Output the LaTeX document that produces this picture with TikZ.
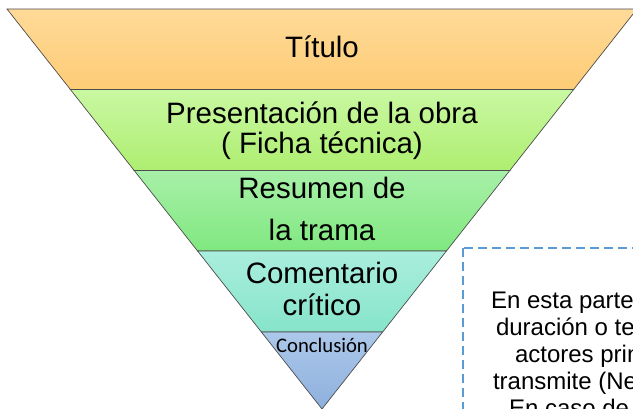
\documentclass[tikz,border=0pt]{standalone}
\usepackage{fontspec}
\setmainfont{Liberation Sans}
\newfontfamily\calibrifont{Carlito}
\usepackage{tikz}

\newcommand{\halfw}[1]{0.7875*(409-#1)}

\begin{document}
\begin{tikzpicture}[x=1pt, y=-1pt,
    inner sep=0pt, outer sep=0pt,%
    band/.style={draw=black!70, line width=0.7pt, top color=#1top, bottom color=#1bot},
    label/.style={font=\fontsize{29.5}{30}\selectfont, align=center, anchor=base},
    note/.style={font=\fontsize{24}{27}\selectfont, anchor=base west},
    notebox/.style={draw=boxblue, line width=2pt, dash pattern=on 9pt off 5pt},
]
    % Colors
    \definecolor{orangetop}{HTML}{FFDA98}
    \definecolor{orangebot}{HTML}{FDCC76}
    \definecolor{limetop}{HTML}{C9F8A2}
    \definecolor{limebot}{HTML}{AEEE70}
    \definecolor{greentop}{HTML}{A8F0A8}
    \definecolor{greenbot}{HTML}{80E880}
    \definecolor{tealtop}{HTML}{AAEEDD}
    \definecolor{tealbot}{HTML}{86E4CA}
    \definecolor{bluetop}{HTML}{ACC8EA}
    \definecolor{bluebot}{HTML}{8EB0DE}
    \definecolor{boxblue}{HTML}{5B9BD5}

    % Frame
    \useasboundingbox (0,0) rectangle (633,408);
    \clip (0,0) rectangle (633,408);

    % Inverted pyramid, one band at a time
    \foreach \ytop/\ybot/\col in {9/89.5/orange, 89.5/170.5/lime, 170.5/251/green,
                                  251/332/teal, 332/409/blue}{
        \draw[band=\col] ({322-\halfw{\ytop}},\ytop) -- ({322+\halfw{\ytop}},\ytop)
            -- ({322+\halfw{\ybot}},\ybot) -- ({322-\halfw{\ybot}},\ybot) -- cycle;
    }

    % Band labels (base = baseline of the last line)
    \node[label] (titulo) at (322,57) {Título};
    \node[label] (presentacion) at (322,153) {Presentación de la obra\\( Ficha técnica)};
    \node[label, font=\fontsize{29.5}{42}\selectfont] (resumen) at (322,240) {Resumen de\\la trama};
    \node[label, font=\fontsize{29.5}{32}\selectfont] (comentario) at (322,315) {Comentario\\crítico};
    \node[label, font=\calibrifont\fontsize{20.7}{22}\selectfont] (conclusion) at (322,352) {Conclusión};

    % Explanation box
    \draw[notebox] (463,248) rectangle (650,430);
    \node[note] (line1) at (491,308) {En esta parte};
    \node[note] (line2) at (496,335) {duración o te};
    \node[note] (line3) at (515,362) {actores prin};
    \node[note] (line4) at (493,389) {transmite (Ne};
    \node[note] (line5) at (509,416) {En caso de};
\end{tikzpicture}
\end{document}
